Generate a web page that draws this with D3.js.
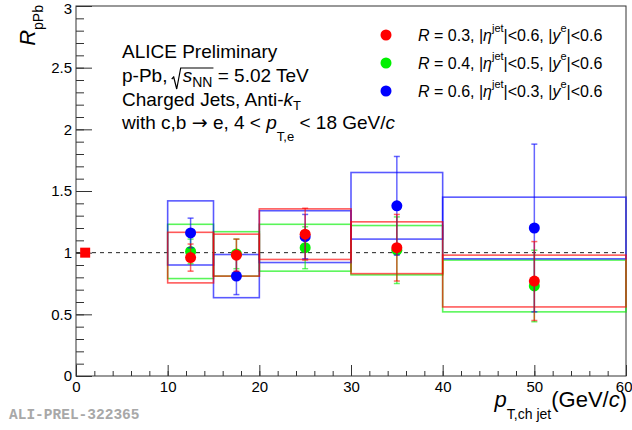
<!DOCTYPE html>
<html>
<head>
<meta charset="utf-8">
<script src="https://cdn.jsdelivr.net/npm/d3@7"></script>
<style>
  body { margin: 0; background: #fff; }
  svg { display: block; }
  text { font-family: "Liberation Sans", Arial, sans-serif; white-space: pre; }
</style>
</head>
<body>
<div class="chart"></div>
<script>
// bins in pT,ch jet (GeV/c)
var binLo = [10, 15, 20, 30, 40];
var binHi = [15, 20, 30, 40, 60];
var ptCenter = [12.5, 17.5, 25, 35, 50];

// R = 0.3
var r03Val = [0.96, 0.98, 1.15, 1.04, 0.77];
var r03Stat = [0.11, 0.13, 0.21, 0.27, 0.32];
var r03Sys = [0.205, 0.17, 0.205, 0.21, 0.21];
// R = 0.4
var r04Val = [1.01, 0.99, 1.04, 1.02, 0.73];
var r04Stat = [0.10, 0.12, 0.17, 0.27, 0.29];
var r04Sys = [0.22, 0.18, 0.19, 0.20, 0.21];
// R = 0.6
var r06Val = [1.16, 0.81, 1.13, 1.38, 1.20];
var r06Stat = [0.12, 0.15, 0.18, 0.40, 0.68];
var r06Sys = [0.26, 0.175, 0.21, 0.27, 0.25];

var xTicks = [0, 10, 20, 30, 40, 50, 60];
var yTicks = [0, 0.5, 1, 1.5, 2, 2.5, 3];
var yTickLabels = ["0", "0.5", "1", "1.5", "2", "2.5", "3"];

// svg container
var svgWidth = 632;
var svgHeight = 430;
var margin = { top: 6, right: 6, bottom: 54, left: 76 };
var width = svgWidth - margin.left - margin.right;
var height = svgHeight - margin.top - margin.bottom;

var svg = d3.select(".chart").append("svg")
  .attr("width", svgWidth)
  .attr("height", svgHeight);

var chartGroup = svg.append("g")
  .attr("transform", `translate(${margin.left}, ${margin.top})`);

var xScale = d3.scaleLinear().domain([0, 60]).range([0, width]);
var yScale = d3.scaleLinear().domain([0, 3]).range([height, 0]);

// axes, ticks pointing inward like ROOT
var xMinor = d3.axisBottom(xScale).tickValues(d3.range(0, 61, 2)).tickSize(-5).tickFormat("");
var xMajor = d3.axisBottom(xScale).tickValues(xTicks).tickSize(-11).tickPadding(5).tickFormat(d3.format("d"));
var yMinor = d3.axisLeft(yScale).tickValues(d3.range(0, 31).map(d => d / 10)).tickSize(-8).tickFormat("");
var yMajor = d3.axisLeft(yScale).tickValues(yTicks).tickSize(-16).tickPadding(4)
  .tickFormat((d, i) => yTickLabels[i]);

var yAxisG;
[[xMinor, true], [xMajor, true], [yMinor, false], [yMajor, false]].forEach(function(a) {
  var g = chartGroup.append("g");
  if (a[1]) g.attr("transform", `translate(0, ${height})`);
  g.call(a[0]);
  g.select(".domain").remove();
  g.selectAll("line").attr("stroke", "#333");
  g.selectAll("text").attr("font-size", 15).attr("fill", "#000")
    .style("font-family", "'Liberation Sans', Arial, sans-serif");
  if (a[0] === yMajor) yAxisG = g;
});

// last x label sits at the window edge, keep it inside
chartGroup.selectAll("text")
  .filter(function() { return d3.select(this).text() === "60"; })
  .attr("text-anchor", "end")
  .attr("x", 6);

// top y label pushed down inside the window, as ROOT does
yAxisG.selectAll("text")
  .filter(function() { return d3.select(this).text() === "3"; })
  .attr("dy", "0.5em");

// frame
chartGroup.append("rect")
  .attr("width", width)
  .attr("height", height)
  .attr("fill", "none")
  .attr("stroke", "#333")
  .attr("stroke-width", 1);

// reference line at 1 and normalisation marker
chartGroup.append("line")
  .attr("x1", xScale(0)).attr("x2", xScale(60))
  .attr("y1", yScale(1)).attr("y2", yScale(1))
  .attr("stroke", "#222")
  .attr("stroke-dasharray", "4,4");

chartGroup.append("rect")
  .attr("x", xScale(1) - 5)
  .attr("y", yScale(1) - 5)
  .attr("width", 10)
  .attr("height", 10)
  .attr("fill", "#ff0000");

var series = [
  { val: r04Val, stat: r04Stat, sys: r04Sys, color: "#00f000" },
  { val: r06Val, stat: r06Stat, sys: r06Sys, color: "#0000ff" },
  { val: r03Val, stat: r03Stat, sys: r03Sys, color: "#ff0000" }
];

// systematic boxes
series.forEach(function(s) {
  chartGroup.append("g").selectAll("rect")
    .data(s.val)
    .enter()
    .append("rect")
    .attr("x", (d, i) => xScale(binLo[i]))
    .attr("width", (d, i) => xScale(binHi[i]) - xScale(binLo[i]))
    .attr("y", (d, i) => yScale(d + s.sys[i]))
    .attr("height", (d, i) => yScale(d - s.sys[i]) - yScale(d + s.sys[i]))
    .attr("fill", "none")
    .attr("stroke", s.color)
    .attr("stroke-opacity", 0.65)
    .attr("stroke-width", 1.6);
});

// stat error bars and markers
series.forEach(function(s) {
  var g = chartGroup.append("g")
    .attr("stroke", s.color)
    .attr("stroke-opacity", 0.6)
    .attr("stroke-width", 1.5);
  g.selectAll(".bar").data(s.val).enter().append("line")
    .attr("x1", (d, i) => xScale(ptCenter[i]))
    .attr("x2", (d, i) => xScale(ptCenter[i]))
    .attr("y1", (d, i) => yScale(d + s.stat[i]))
    .attr("y2", (d, i) => yScale(d - s.stat[i]));
  [1, -1].forEach(function(sign) {
    g.selectAll(".cap" + sign).data(s.val).enter().append("line")
      .attr("x1", (d, i) => xScale(ptCenter[i]) - 3)
      .attr("x2", (d, i) => xScale(ptCenter[i]) + 3)
      .attr("y1", (d, i) => yScale(d + sign * s.stat[i]))
      .attr("y2", (d, i) => yScale(d + sign * s.stat[i]));
  });
  chartGroup.append("g").selectAll("circle")
    .data(s.val)
    .enter()
    .append("circle")
    .attr("cx", (d, i) => xScale(ptCenter[i]))
    .attr("cy", d => yScale(d))
    .attr("r", 5.5)
    .attr("fill", s.color);
});

// text with italic, sub and superscript pieces
function rich(parent, x, y, fs, parts, anchor) {
  var t = parent.append("text")
    .attr("x", x).attr("y", y)
    .attr("font-size", fs)
    .attr("text-anchor", anchor || "start");
  var cur = 0;
  parts.forEach(function(p) {
    var s = typeof p === "string" ? { t: p } : p;
    var shift = s.dy || 0;
    var ts = t.append("tspan").text(s.t);
    if (shift !== cur) ts.attr("dy", shift - cur);
    if (s.dx) ts.attr("dx", s.dx);
    cur = shift;
    if (s.it) ts.attr("font-style", "italic");
    if (s.fs) ts.attr("font-size", s.fs);
    if (s.ff) ts.style("font-family", s.ff);
  });
  return t;
}

// legend
var legendLabels = [
  ["0.3", "0.6"],
  ["0.4", "0.5"],
  ["0.6", "0.3"]
];
var legendColors = ["#ff0000", "#00f000", "#0000ff"];
legendLabels.forEach(function(l, i) {
  var ly = 35 + i * 28;
  svg.append("circle").attr("cx", 386).attr("cy", ly).attr("r", 5.5).attr("fill", legendColors[i]);
  rich(svg, 418, ly + 6, 16, [
    { t: "R", it: true },
    " = " + l[0] + ", |",
    { t: "η", it: true },
    { t: "jet", fs: 11, dy: -9 },
    "|<" + l[1] + ", |",
    { t: "y", it: true },
    { t: "e", fs: 11, dy: -9 },
    "|<0.6"
  ]);
});

// ALICE label block
var fsBlock = 19;
rich(svg, 122, 58, fsBlock, ["ALICE Preliminary"]);
var line2 = rich(svg, 122, 82, fsBlock, [
  "p-Pb, ",
  { t: "s", it: true, dx: 10 },
  { t: "NN", fs: 14, dy: 5 },
  " = 5.02 TeV"
]);
var n2 = line2.node();
var sStart = n2.getExtentOfChar(6).x;
var nnEnd = n2.getExtentOfChar(8);
var b2 = 82;
svg.append("path")
  .attr("d", `M${sStart - 11},${b2 - 3} L${sStart - 9},${b2 - 5} L${sStart - 6},${b2 + 7} L${sStart - 2},${b2 - 14} L${nnEnd.x + nnEnd.width + 1},${b2 - 14}`)
  .attr("fill", "none")
  .attr("stroke", "#000")
  .attr("stroke-width", 1.2);
rich(svg, 122, 106, fsBlock, [
  "Charged Jets, Anti-",
  { t: "k", it: true },
  { t: "T", fs: 13, dy: 4 }
]);
rich(svg, 122, 129, fsBlock, [
  "with c,b ",
  { t: "→", ff: "'DejaVu Sans', sans-serif" },
  " e, 4 < ",
  { t: "p", it: true },
  { t: "T,e", fs: 13, dy: 12 },
  " < 18 GeV/",
  { t: "c", it: true }
]);

// axis titles
rich(svg, 627, 407, 22, [
  { t: "p", it: true },
  { t: "T,ch jet", fs: 14, dy: 12 },
  "(GeV/",
  { t: "c", it: true },
  ")"
], "end");

var yTitle = svg.append("g").attr("transform", "translate(35, 5) rotate(-90)");
rich(yTitle, 0, 0, 22, [
  { t: "R", it: true },
  { t: "pPb", fs: 14, dy: 8 }
], "end");

// preliminary tag
svg.append("text")
  .attr("x", 9)
  .attr("y", 419)
  .attr("font-size", 14.5)
  .attr("font-weight", "bold")
  .attr("fill", "#a8a8a8")
  .style("font-family", "'Liberation Mono', 'Courier New', monospace")
  .text("ALI-PREL-322365");
</script>
</body>
</html>
